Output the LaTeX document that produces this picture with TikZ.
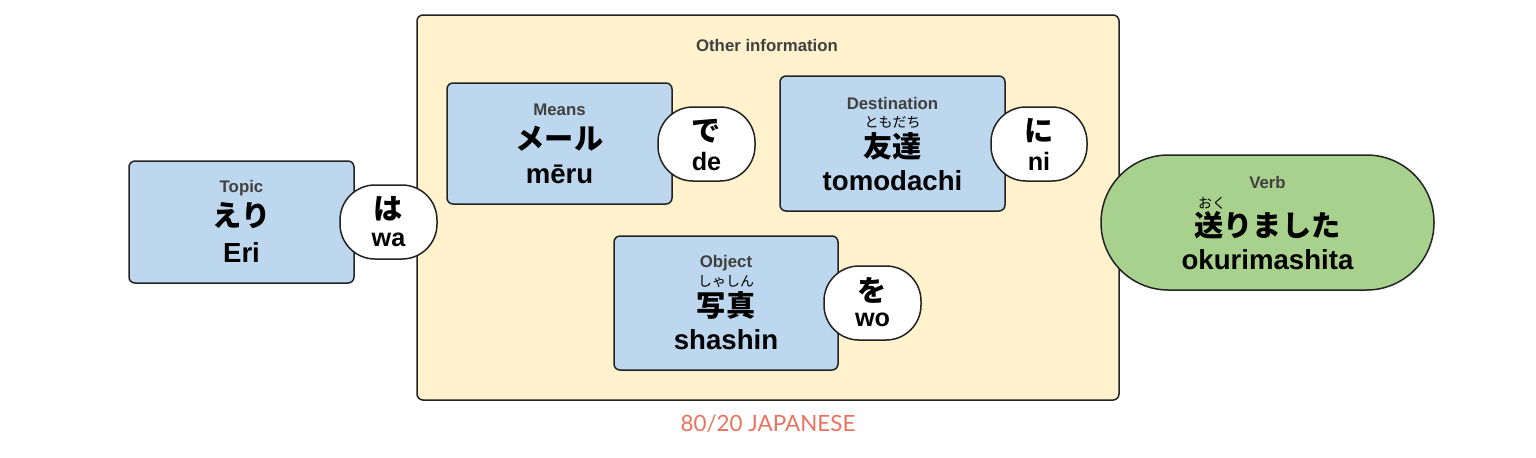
\documentclass[tikz,border=0pt]{standalone}
\usepackage{fontspec}
\setmainfont{Liberation Sans}
\newfontfamily\jp{Noto Sans CJK JP}
\newfontfamily\brand{Lato}
\definecolor{bluefill}{HTML}{BDD7EE}
\definecolor{yellowfill}{HTML}{FFF2CC}
\definecolor{greenfill}{HTML}{A9D18E}
\definecolor{edge}{HTML}{222222}
\definecolor{lblgray}{HTML}{404040}
\definecolor{brandred}{HTML}{E9735F}
\tikzset{
  boxbase/.style={draw=edge, line width=0.75pt, rounded corners=3pt, inner sep=0pt},
  rolebox/.style={boxbase, fill=bluefill},
  bubble/.style={draw=edge, line width=0.75pt, fill=white, rounded corners=17.5pt,
    minimum width=48.5pt, minimum height=37pt, inner sep=0pt},
  lbl/.style={text=lblgray, font=\bfseries\fontsize{8.4pt}{9pt}\selectfont, inner sep=0pt},
  kanji/.style={font=\jp\bfseries\fontsize{14.6pt}{16pt}\selectfont, inner sep=0pt},
  roma/.style={font=\bfseries\fontsize{13.8pt}{15pt}\selectfont, inner sep=0pt},
  bubroma/.style={font=\bfseries\fontsize{12.6pt}{14pt}\selectfont, inner sep=0pt},
  furi/.style={font=\jp\fontsize{7pt}{8pt}\selectfont, inner sep=0pt},
}
\begin{document}
\begin{tikzpicture}[x=0.5pt,y=-0.5pt]
\useasboundingbox (0,0) rectangle (1536,457);
% outer yellow box
\node[boxbase, fill=yellowfill, minimum width=351pt, minimum height=192.5pt] (other) at (768,207.5) {};
\node[lbl] (otherlbl) at (767,45) {Other information};
% Topic
\node[rolebox, minimum width=112.5pt, minimum height=61pt] (topic) at (241.5,222) {};
\node[lbl] (topiclbl) at (241.5,188) {Topic};
\node[kanji] (topicjp) at (241.5,216) {えり};
\node[roma] (topicro) at (241.5,252) {Eri};
\node[bubble] (wa) at (388.5,222) {};
\node[kanji] (wajp) at (388.5,209) {は};
\node[bubroma] (waro) at (388.5,240) {wa};
% Means
\node[rolebox, minimum width=112.5pt, minimum height=60.5pt] (means) at (559.5,143.5) {};
\node[lbl] (meanslbl) at (559.5,110) {Means};
\node[kanji] (meansjp) at (559.5,139) {メール};
\node[roma] (meansro) at (559.5,174) {mēru};
\node[bubble] (de) at (706.5,144) {};
\node[kanji] (dejp) at (706.5,131) {で};
\node[bubroma] (dero) at (706.5,161) {de};
% Destination
\node[rolebox, minimum width=112.5pt, minimum height=67.5pt] (dest) at (892.5,143.5) {};
\node[lbl] (destlbl) at (892.5,103) {Destination};
\node[furi] (destfuri) at (892.5,122) {ともだち};
\node[kanji] (destjp) at (892.5,146) {友達};
\node[roma] (destro) at (892.5,181) {tomodachi};
\node[bubble, minimum width=48pt] (ni) at (1039,144) {};
\node[kanji] (nijp) at (1039,131) {に};
\node[bubroma] (niro) at (1039,161) {ni};
% Object
\node[rolebox, minimum width=112pt, minimum height=67pt] (object) at (726,303) {};
\node[lbl] (objlbl) at (726,263) {Object};
\node[furi] (objfuri) at (726,282) {しゃしん};
\node[kanji] (objjp) at (726,305) {写真};
\node[roma] (objro) at (726,340) {shashin};
\node[bubble] (wo) at (872.5,303) {};
\node[kanji] (wojp) at (872.5,290) {を};
\node[bubroma] (woro) at (872.5,320) {wo};
% Verb
\node[draw=edge, line width=0.75pt, fill=greenfill, rounded corners=33.7pt,
  minimum width=166.5pt, minimum height=67.5pt, inner sep=0pt] (verb) at (1267.5,222.5) {};
\node[lbl] (verblbl) at (1267.5,182) {Verb};
\node[kanji] (verbjp) at (1267.5,225) {送りました};
\node[furi] (verbfuri) at (1212,203) {おく};
\node[roma] (verbro) at (1267.5,260) {okurimashita};
% footer
\node[text=brandred, font=\brand\fontsize{11.2pt}{13pt}\selectfont, inner sep=0pt] (brand) at (768,424) {80/20 JAPANESE};
\end{tikzpicture}
\end{document}
